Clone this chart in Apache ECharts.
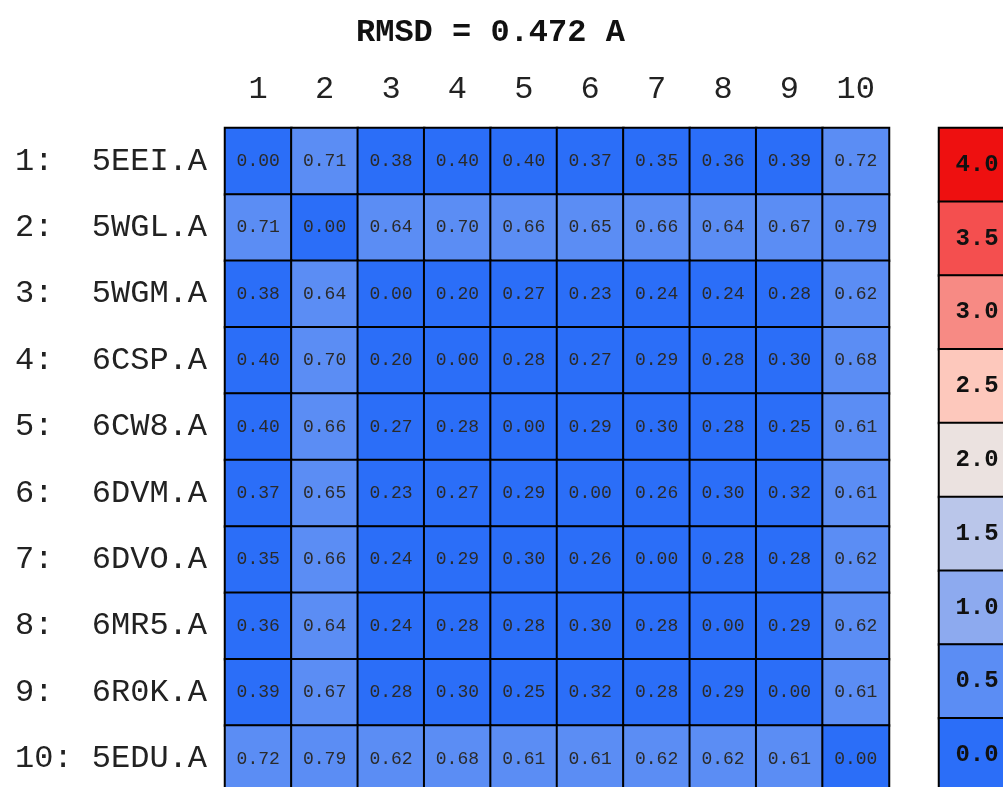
<!DOCTYPE html>
<html>
<head>
<meta charset="utf-8">
<script src="https://cdn.jsdelivr.net/npm/echarts@6/dist/echarts.min.js"></script>
<style>
html,body{margin:0;padding:0;background:#fff;overflow:hidden;width:1003px;height:787px;}
#chart{width:1030px;height:800px;}
</style>
</head>
<body>
<div id="chart"></div>
<script>
var titleText = 'RMSD = 0.472 A';
var colLabels = ['1','2','3','4','5','6','7','8','9','10'];
var rowIds = ['1:','2:','3:','4:','5:','6:','7:','8:','9:','10:'];
var rowNames = ['5EEI.A','5WGL.A','5WGM.A','6CSP.A','6CW8.A','6DVM.A','6DVO.A','6MR5.A','6R0K.A','5EDU.A'];
var row1  = [0.00,0.71,0.38,0.40,0.40,0.37,0.35,0.36,0.39,0.72];
var row2  = [0.71,0.00,0.64,0.70,0.66,0.65,0.66,0.64,0.67,0.79];
var row3  = [0.38,0.64,0.00,0.20,0.27,0.23,0.24,0.24,0.28,0.62];
var row4  = [0.40,0.70,0.20,0.00,0.28,0.27,0.29,0.28,0.30,0.68];
var row5  = [0.40,0.66,0.27,0.28,0.00,0.29,0.30,0.28,0.25,0.61];
var row6  = [0.37,0.65,0.23,0.27,0.29,0.00,0.26,0.30,0.32,0.61];
var row7  = [0.35,0.66,0.24,0.29,0.30,0.26,0.00,0.28,0.28,0.62];
var row8  = [0.36,0.64,0.24,0.28,0.28,0.30,0.28,0.00,0.29,0.62];
var row9  = [0.39,0.67,0.28,0.30,0.25,0.32,0.28,0.29,0.00,0.61];
var row10 = [0.72,0.79,0.62,0.68,0.61,0.61,0.62,0.62,0.61,0.00];
var legendValues = [4.0,3.5,3.0,2.5,2.0,1.5,1.0,0.5,0.0];
var legendColors = ['#ee1010','#f44f4f','#f78a84','#fdc8bc','#ebe2e0','#bac6ea','#8daaef','#5b8df4','#2b6ef8'];

var rows = [row1,row2,row3,row4,row5,row6,row7,row8,row9,row10];
var rowLabels = rowIds.map(function(id,i){ return (id + '   ').slice(0,4) + rowNames[i]; });
var cells = [];
rows.forEach(function(r,i){ r.forEach(function(v,j){ cells.push([j,i,v]); }); });
var pieces = [];
var asc = legendValues.slice().reverse();
var ascColors = legendColors.slice().reverse();
asc.forEach(function(v,i){
  var p = {gte:v, color:ascColors[i]};
  if (i < asc.length-1) p.lt = asc[i+1];
  pieces.push(p);
});
var legendCells = legendValues.map(function(v,i){ return [0,i,v]; });

var mono = 'Liberation Mono';
var chart = echarts.init(document.getElementById('chart'));
chart.setOption({
  animation:false,
  backgroundColor:'#fff',
  title:{text:titleText,left:351,top:12,textStyle:{fontFamily:mono,fontSize:32,fontWeight:'bold',color:'#111'}},
  visualMap:{type:'piecewise',show:false,seriesIndex:[0,1],dimension:2,pieces:pieces},
  grid:[
    {left:225,top:128,width:664,height:664,containLabel:false},
    {left:939,top:128,width:76,height:664,containLabel:false}
  ],
  xAxis:[
    {type:'category',gridIndex:0,data:colLabels,position:'top',
     axisLine:{show:false},axisTick:{show:false},splitLine:{show:false},
     axisLabel:{fontFamily:mono,fontSize:32,color:'#222',margin:22}},
    {type:'category',gridIndex:1,data:['v'],show:false}
  ],
  yAxis:[
    {type:'category',gridIndex:0,data:rowLabels,inverse:true,
     axisLine:{show:false},axisTick:{show:false},splitLine:{show:false},
     axisLabel:{fontFamily:mono,fontSize:32,color:'#222',margin:18}},
    {type:'category',gridIndex:1,data:legendValues.map(function(v){return v.toFixed(1);}),inverse:true,show:false}
  ],
  series:[
    {type:'heatmap',xAxisIndex:0,yAxisIndex:0,data:cells,
     itemStyle:{borderColor:'#000',borderWidth:2},
     label:{show:true,fontFamily:mono,fontSize:18,color:'#2a2a2a',formatter:function(p){return p.value[2].toFixed(2);}},
     emphasis:{disabled:true}},
    {type:'heatmap',xAxisIndex:1,yAxisIndex:1,data:legendCells,
     itemStyle:{borderColor:'#000',borderWidth:2},
     label:{show:true,fontFamily:mono,fontSize:24,fontWeight:'bold',color:'#111',formatter:function(p){return p.value[2].toFixed(1);}},
     emphasis:{disabled:true}}
  ]
});
</script>
</body>
</html>
